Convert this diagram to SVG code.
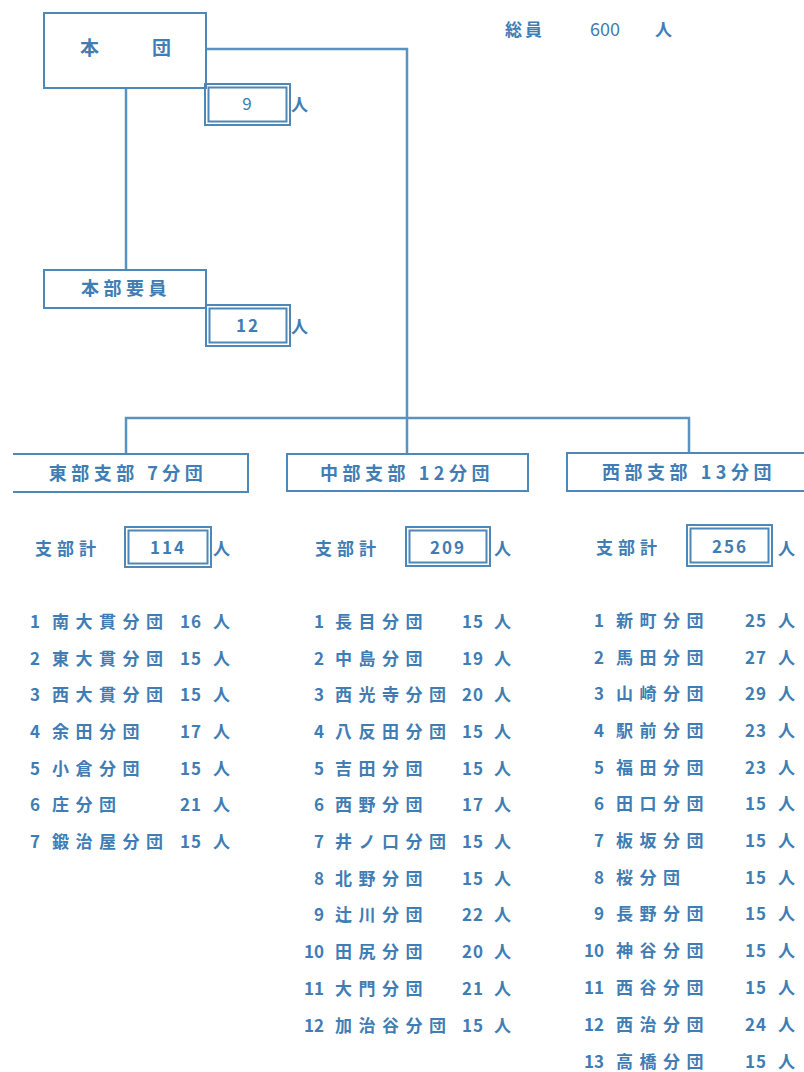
<svg xmlns="http://www.w3.org/2000/svg" width="804" height="1072" viewBox="0 0 804 1072">
<style>
text{font-family:"Noto Sans CJK JP","Noto Sans",sans-serif;fill:#3f7db4;font-size:17px;font-weight:bold}
.nm{letter-spacing:6.5px}
.num{text-anchor:end}
.cnt{text-anchor:end;letter-spacing:1px}
.hd{font-size:18px;letter-spacing:4.5px;text-anchor:middle}
.box{fill:#fff;stroke:#4d88b8;stroke-width:2}
.cb{fill:none;stroke:#4d88b8;stroke-width:2}
.ln{fill:none;stroke:#5a93bf;stroke-width:2.5}
</style>
<rect width="804" height="1072" fill="#fff"/>
<g id="connectors">
<path class="ln" d="M206 49H407V418"/>
<path class="ln" d="M126 88V270"/>
<path class="ln" d="M126 455V418H689V454"/>
<path class="ln" d="M407 418V454"/>
</g>
<g id="total">
<text x="505" y="36" style="letter-spacing:3px">総員</text>
<text x="590" y="36" style="font-weight:normal;font-size:18px">600</text>
<text x="655" y="36">人</text>
</g>
<g id="honndan">
<rect class="box" x="44" y="13" width="162" height="75"/>
<text x="80" y="55" style="font-size:19px">本</text>
<text x="152" y="55" style="font-size:19px">団</text>
</g>
<g id="honndan-count">
<rect class="cb" x="205" y="84" width="85" height="41"/>
<rect class="cb" x="208.5" y="87.5" width="78" height="34"/>
<text x="247" y="110" text-anchor="middle" style="font-weight:normal">9</text>
<text x="291" y="111">人</text>
</g>
<g id="honbu">
<rect class="box" x="44" y="270" width="162" height="38"/>
<text x="126" y="295" class="hd">本部要員</text>
</g>
<g id="honbu-count">
<rect class="cb" x="206" y="305" width="84" height="41"/>
<rect class="cb" x="209.5" y="308.5" width="77" height="34"/>
<text x="248" y="332" text-anchor="middle" style="letter-spacing:2px">12</text>
<text x="291" y="333">人</text>
</g>
<g id="east">
<path class="box" d="M13 454H248V492H13"/>
<text x="128" y="480" class="hd">東部支部 7分団</text>
<text x="35" y="555" style="letter-spacing:5px">支部計</text>
<rect class="cb" x="125" y="527" width="86" height="40"/>
<rect class="cb" x="128.5" y="530.5" width="79" height="33"/>
<text x="168" y="554" text-anchor="middle" style="letter-spacing:2px">114</text>
<text x="213" y="555">人</text>
<g id="east-list">
<text class="num" x="40" y="628">1</text><text class="nm" x="52" y="628">南大貫分団</text><text class="cnt" x="202" y="628">16</text><text x="213" y="628">人</text>
<text class="num" x="40" y="665">2</text><text class="nm" x="52" y="665">東大貫分団</text><text class="cnt" x="202" y="665">15</text><text x="213" y="665">人</text>
<text class="num" x="40" y="701">3</text><text class="nm" x="52" y="701">西大貫分団</text><text class="cnt" x="202" y="701">15</text><text x="213" y="701">人</text>
<text class="num" x="40" y="738">4</text><text class="nm" x="52" y="738">余田分団</text><text class="cnt" x="202" y="738">17</text><text x="213" y="738">人</text>
<text class="num" x="40" y="775">5</text><text class="nm" x="52" y="775">小倉分団</text><text class="cnt" x="202" y="775">15</text><text x="213" y="775">人</text>
<text class="num" x="40" y="811">6</text><text class="nm" x="52" y="811">庄分団</text><text class="cnt" x="202" y="811">21</text><text x="213" y="811">人</text>
<text class="num" x="40" y="848">7</text><text class="nm" x="52" y="848">鍛治屋分団</text><text class="cnt" x="202" y="848">15</text><text x="213" y="848">人</text>
</g>
</g>
<g id="middle">
<rect class="box" x="287" y="454" width="241" height="37"/>
<text x="407" y="480" class="hd">中部支部 12分団</text>
<text x="315" y="555" style="letter-spacing:5px">支部計</text>
<rect class="cb" x="406" y="527" width="84" height="39"/>
<rect class="cb" x="409.5" y="530.5" width="77" height="32"/>
<text x="448" y="554" text-anchor="middle" style="letter-spacing:2px">209</text>
<text x="494" y="555">人</text>
<g id="middle-list">
<text class="num" x="324" y="628">1</text><text class="nm" x="335" y="628">長目分団</text><text class="cnt" x="484" y="628">15</text><text x="494" y="628">人</text>
<text class="num" x="324" y="665">2</text><text class="nm" x="335" y="665">中島分団</text><text class="cnt" x="484" y="665">19</text><text x="494" y="665">人</text>
<text class="num" x="324" y="701">3</text><text class="nm" x="335" y="701">西光寺分団</text><text class="cnt" x="484" y="701">20</text><text x="494" y="701">人</text>
<text class="num" x="324" y="738">4</text><text class="nm" x="335" y="738">八反田分団</text><text class="cnt" x="484" y="738">15</text><text x="494" y="738">人</text>
<text class="num" x="324" y="775">5</text><text class="nm" x="335" y="775">吉田分団</text><text class="cnt" x="484" y="775">15</text><text x="494" y="775">人</text>
<text class="num" x="324" y="811">6</text><text class="nm" x="335" y="811">西野分団</text><text class="cnt" x="484" y="811">17</text><text x="494" y="811">人</text>
<text class="num" x="324" y="848">7</text><text class="nm" x="335" y="848">井ノ口分団</text><text class="cnt" x="484" y="848">15</text><text x="494" y="848">人</text>
<text class="num" x="324" y="885">8</text><text class="nm" x="335" y="885">北野分団</text><text class="cnt" x="484" y="885">15</text><text x="494" y="885">人</text>
<text class="num" x="324" y="921">9</text><text class="nm" x="335" y="921">辻川分団</text><text class="cnt" x="484" y="921">22</text><text x="494" y="921">人</text>
<text class="num" x="324" y="958">10</text><text class="nm" x="335" y="958">田尻分団</text><text class="cnt" x="484" y="958">20</text><text x="494" y="958">人</text>
<text class="num" x="324" y="995">11</text><text class="nm" x="335" y="995">大門分団</text><text class="cnt" x="484" y="995">21</text><text x="494" y="995">人</text>
<text class="num" x="324" y="1032">12</text><text class="nm" x="335" y="1032">加治谷分団</text><text class="cnt" x="484" y="1032">15</text><text x="494" y="1032">人</text>
</g>
</g>
<g id="west">
<path class="box" d="M805 453H567V491H805"/>
<text x="689" y="479" class="hd">西部支部 13分団</text>
<text x="596" y="554" style="letter-spacing:5px">支部計</text>
<rect class="cb" x="687" y="525" width="85" height="41"/>
<rect class="cb" x="690.5" y="528.5" width="78" height="34"/>
<text x="730" y="553" text-anchor="middle" style="letter-spacing:2px">256</text>
<text x="778" y="555">人</text>
<g id="west-list">
<text class="num" x="604" y="627">1</text><text class="nm" x="616" y="627">新町分団</text><text class="cnt" x="767" y="627">25</text><text x="778" y="627">人</text>
<text class="num" x="604" y="664">2</text><text class="nm" x="616" y="664">馬田分団</text><text class="cnt" x="767" y="664">27</text><text x="778" y="664">人</text>
<text class="num" x="604" y="700">3</text><text class="nm" x="616" y="700">山崎分団</text><text class="cnt" x="767" y="700">29</text><text x="778" y="700">人</text>
<text class="num" x="604" y="737">4</text><text class="nm" x="616" y="737">駅前分団</text><text class="cnt" x="767" y="737">23</text><text x="778" y="737">人</text>
<text class="num" x="604" y="774">5</text><text class="nm" x="616" y="774">福田分団</text><text class="cnt" x="767" y="774">23</text><text x="778" y="774">人</text>
<text class="num" x="604" y="810">6</text><text class="nm" x="616" y="810">田口分団</text><text class="cnt" x="767" y="810">15</text><text x="778" y="810">人</text>
<text class="num" x="604" y="847">7</text><text class="nm" x="616" y="847">板坂分団</text><text class="cnt" x="767" y="847">15</text><text x="778" y="847">人</text>
<text class="num" x="604" y="884">8</text><text class="nm" x="616" y="884">桜分団</text><text class="cnt" x="767" y="884">15</text><text x="778" y="884">人</text>
<text class="num" x="604" y="920">9</text><text class="nm" x="616" y="920">長野分団</text><text class="cnt" x="767" y="920">15</text><text x="778" y="920">人</text>
<text class="num" x="604" y="957">10</text><text class="nm" x="616" y="957">神谷分団</text><text class="cnt" x="767" y="957">15</text><text x="778" y="957">人</text>
<text class="num" x="604" y="994">11</text><text class="nm" x="616" y="994">西谷分団</text><text class="cnt" x="767" y="994">15</text><text x="778" y="994">人</text>
<text class="num" x="604" y="1031">12</text><text class="nm" x="616" y="1031">西治分団</text><text class="cnt" x="767" y="1031">24</text><text x="778" y="1031">人</text>
<text class="num" x="604" y="1068">13</text><text class="nm" x="616" y="1068">高橋分団</text><text class="cnt" x="767" y="1068">15</text><text x="778" y="1068">人</text>
</g>
</g>
</svg>
